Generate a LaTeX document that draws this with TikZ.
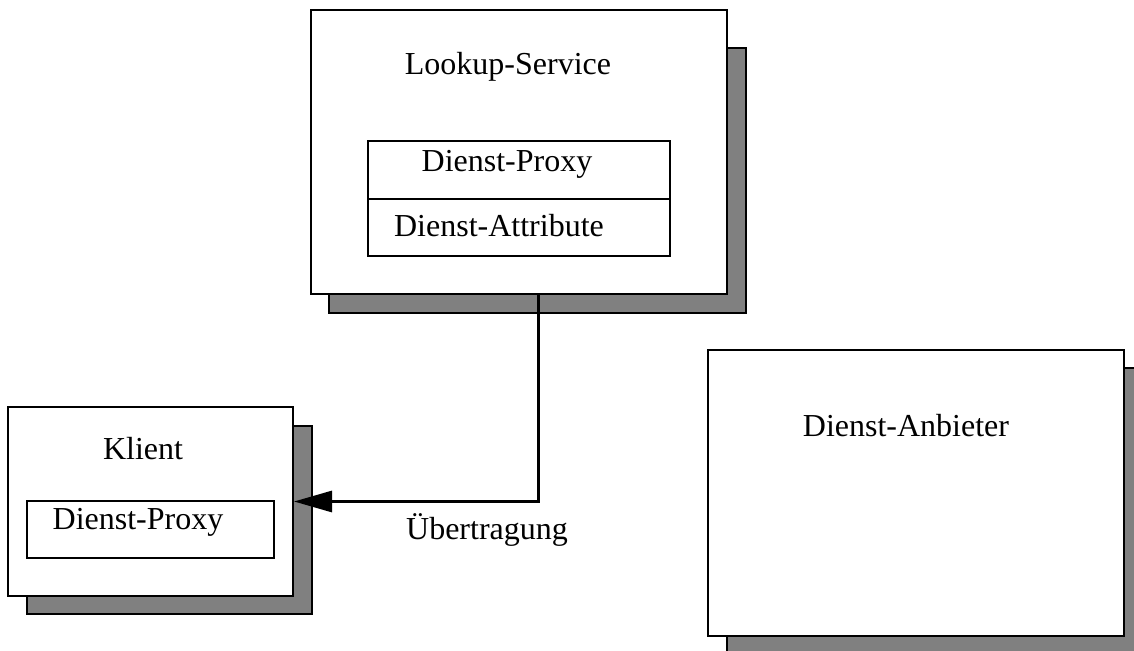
\documentclass[tikz,border=0pt]{standalone}
\usepackage{fontspec}
\setmainfont{Liberation Serif}
\usetikzlibrary{positioning}
\usetikzlibrary{arrows.meta}

\begin{document}
\begin{tikzpicture}[x=0.5pt,y=-0.5pt,
    box/.style={draw=black,fill=white,line width=1pt,inner sep=0pt},
    shadowbox/.style={draw=black,fill=black!50,line width=1pt},
    lbl/.style={font=\fontsize{16}{19}\selectfont,inner sep=0pt,anchor=base},
    conn/.style={line width=1.5pt,-{Triangle[length=19pt,width=10.5pt]}}]
        \useasboundingbox (0,0) rectangle (1134,651);

        % Draw the shadows
        \draw[shadowbox] (329,48) rectangle (746,313);
        \draw[shadowbox] (27,426) rectangle (312,614);
        \draw[shadowbox] (727,368) rectangle (1144,656);

        % Draw the boxes
        \node[box,minimum width=208pt,minimum height=142pt] (lookup) at (519,152) {};
        \node[box,minimum width=151pt,minimum height=29pt] (proxy) at (519,170) {};
        \node[box,minimum width=151pt,minimum height=28.5pt] (attr) at (519,227.5) {};
        \node[box,minimum width=142.5pt,minimum height=94.5pt] (klient) at (150.5,501.5) {};
        \node[box,minimum width=123.5pt,minimum height=28.5pt] (kproxy) at (150.5,529.5) {};
        \node[box,minimum width=208pt,minimum height=143pt] (anbieter) at (916,493) {};

        % Labels
        \node[lbl] (tlookup) at (508,75) {Lookup-Service};
        \node[lbl] (tproxy) at (507,172) {Dienst-Proxy};
        \node[lbl] (tattr) at (499,237) {Dienst-Attribute};
        \node[lbl] (tklient) at (143,459) {Klient};
        \node[lbl] (tkproxy) at (138,530) {Dienst-Proxy};
        \node[lbl] (tanbieter) at (906,437) {Dienst-Anbieter};

        % Draw the connector
        \draw[conn] ([xshift=9.5pt]lookup.south) |- (klient.east);
        \node[lbl] (tuebertr) at (487,539) {Übertragung};
\end{tikzpicture}
\end{document}
